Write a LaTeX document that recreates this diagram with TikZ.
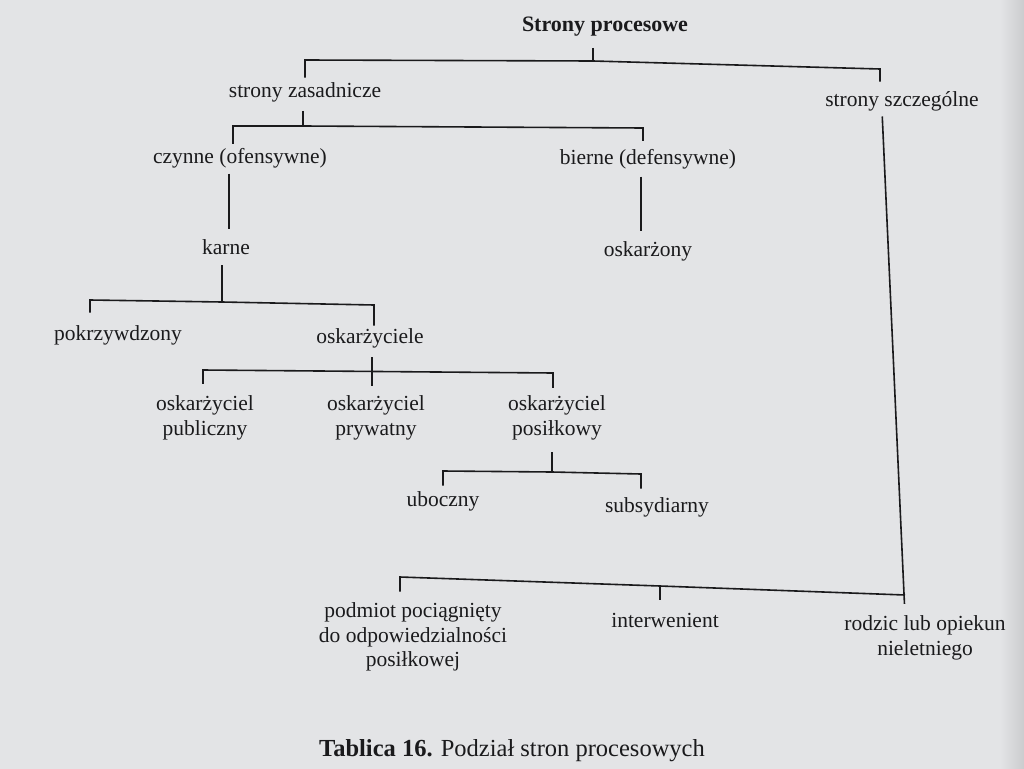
\documentclass[tikz,border=0pt]{standalone}
\usepackage{fontspec}
\setmainfont{Liberation Serif}

\definecolor{paper}{RGB}{227,228,230}
\definecolor{ink}{RGB}{26,26,28}

\begin{document}
\begin{tikzpicture}[%
    x=1pt,y=-1pt,
    every node/.style={
      inner sep=0pt,
      text=ink,
      font=\fontsize{21.5}{24.5}\selectfont
    },
    leaf/.style={
      align=center
    },
    head/.style={
      font=\fontsize{22}{26}\selectfont\bfseries
    },
    caption/.style={
      font=\fontsize{24.5}{28}\selectfont
    },
    link/.style={
      draw=ink,
      line width=1.6pt
    },
    heavy/.style={
      link,
      line width=2.6pt
    }
  ]
    % page
    \useasboundingbox (0,0) rectangle (1024,768);
    \fill[paper] (-3,-3) rectangle (1027,771);
    \shade[left color=paper, right color=paper!88!black] (1000,-3) rectangle (1027,771);

    % nodes
    \node[head] (root) at (605,27) {Strony procesowe};
    \node (zas) at (305,92) {strony zasadnicze};
    \node (szcz) at (902,101) {strony szczególne};
    \node (czyn) at (240,158) {czynne (ofensywne)};
    \node (bier) at (648,159) {bierne (defensywne)};
    \node (karne) at (226,247) {karne};
    \node (oskarz) at (648,251) {oskarżony};
    \node (pokrz) at (118,335) {pokrzywdzony};
    \node (oskle) at (370,338) {oskarżyciele};
    \node[leaf] (pub) at (205,418) {oskarżyciel\\publiczny};
    \node[leaf] (pryw) at (376,418) {oskarżyciel\\prywatny};
    \node[leaf] (pos) at (557,418) {oskarżyciel\\posiłkowy};
    \node (ubocz) at (443,501) {uboczny};
    \node (subs) at (657,507) {subsydiarny};
    \node[leaf] (podm) at (413,637) {podmiot pociągnięty\\do odpowiedzialności\\posiłkowej};
    \node (interw) at (665,620) {interwenient};
    \node[leaf] (rodzic) at (925,638) {rodzic lub opiekun\\nieletniego};
    \node[caption] (cap) at (512,751) {\textbf{Tablica 16.} Podział stron procesowych};

    % bracket corners
    \coordinate (t0) at (593,61);
    \coordinate (tl) at (305,60);
    \coordinate (tr) at (880,69);
    \coordinate (z0) at (303,126);
    \coordinate (zl) at (233,126);
    \coordinate (zr) at (643,128);
    \coordinate (c0) at (229,0);
    \coordinate (b0) at (641,0);
    \coordinate (k0) at (222,302);
    \coordinate (kl) at (90,300);
    \coordinate (kr) at (374,305);
    \coordinate (o0) at (372,0);
    \coordinate (ol) at (203,370);
    \coordinate (or) at (553,373);
    \coordinate (p0) at (552,472);
    \coordinate (pl) at (443,471);
    \coordinate (pr) at (641,474);
    \coordinate (s1) at (882,0);
    \coordinate (s2) at (905,0);
    \coordinate (bl) at (400,577);
    \coordinate (bm) at (660,586);
    \coordinate (br) at (905,595);

    % connectors
    \draw[link, shorten <=11pt] (root.south -| t0) -- (t0);
    \draw[link, shorten <=4.5pt, shorten >=9.5pt] (zas.north -| tl) -- (tl) -- (t0) -- (tr) -- (szcz.north -| tr);
    \draw[link, shorten <=9pt] (zas.south -| z0) -- (z0);
    \draw[link, shorten <=4pt, shorten >=8pt] (czyn.north -| zl) -- (zl) -- (z0) -- (zr) -- (bier.north -| zr);
    \draw[link, shorten <=5.5pt, shorten >=10.5pt] (czyn.south -| c0) -- (karne.north -| c0);
    \draw[heavy, shorten <=7.5pt, shorten >=10.5pt] (bier.south -| b0) -- (oskarz.north -| b0);
    \draw[link, shorten <=10.5pt] (karne.south -| k0) -- (k0);
    \draw[link, shorten <=12.5pt, shorten >=2.5pt] (pokrz.north -| kl) -- (kl) -- (k0) -- (kr) -- (oskle.north -| kr);
    \draw[link, shorten <=9.5pt, shorten >=10pt] (oskle.south -| o0) -- (pryw.north -| o0);
    \draw[link, shorten <=12pt, shorten >=8pt] (pub.north -| ol) -- (ol) -- (or) -- (pos.north -| or);
    \draw[link, shorten <=12pt] (pos.south -| p0) -- (p0);
    \draw[link, shorten <=5.5pt, shorten >=8.5pt] (ubocz.north -| pl) -- (pl) -- (p0) -- (pr) -- (subs.north -| pr);
    \draw[link, shorten <=5.5pt, shorten >=12pt] (szcz.south -| s1) -- (rodzic.north -| s2);
    \draw[link, shorten <=11pt] (podm.north -| bl) -- (bl) -- (bm) -- (br);
    \draw[link, shorten >=13pt] (bm) -- (interw.north -| bm);
\end{tikzpicture}
\end{document}
